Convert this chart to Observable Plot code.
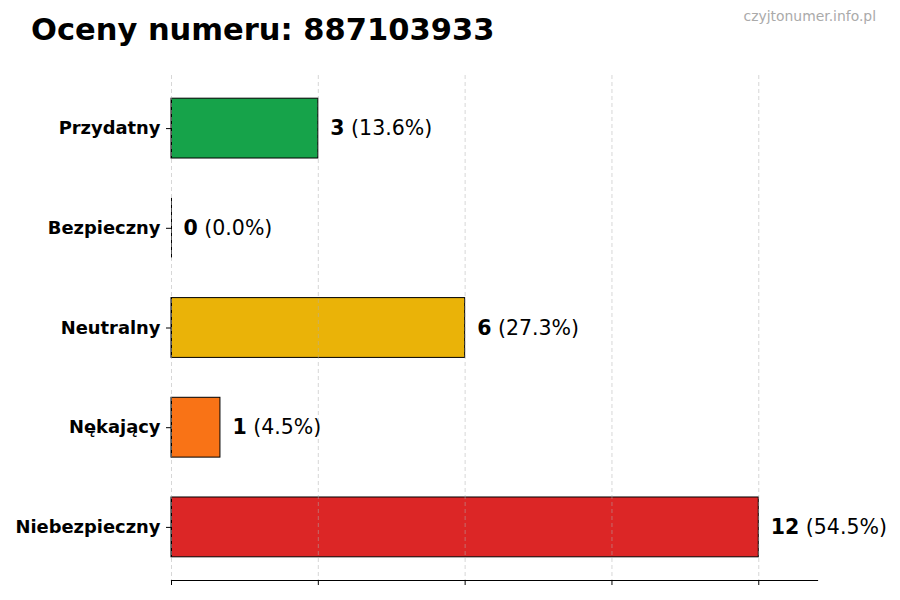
<!DOCTYPE html>
<html>
<head>
<meta charset="utf-8">
<script src="https://cdn.jsdelivr.net/npm/d3@7"></script>
<script src="https://cdn.jsdelivr.net/npm/@observablehq/plot@0.6"></script>
<style>
  html, body { margin: 0; padding: 0; background: #fff; }
  #page { position: relative; width: 900px; height: 600px; overflow: hidden; font-family: "DejaVu Sans", sans-serif; }
  #title { position: absolute; left: 31px; top: 15px; font: bold 30.5px "DejaVu Sans", sans-serif; line-height: 1; color: #000; white-space: nowrap; }
  #mark { position: absolute; right: 24px; top: 10px; font: 13.9px "DejaVu Sans", sans-serif; line-height: 1; color: #aaaaaa; white-space: nowrap; }
  #chart { position: absolute; left: 0; top: 60px; }
  #chart svg { overflow: visible; }
  #chart [aria-label="y-axis tick label"] { font-weight: bold; font-size: 17.9px; }
</style>
</head>
<body>
<div id="page">
  <div id="title">Oceny numeru: 887103933</div>
  <div id="mark">czyjtonumer.info.pl</div>
  <div id="chart"></div>
</div>
<script>
const categories = ["Przydatny", "Bezpieczny", "Neutralny", "Nękający", "Niebezpieczny"];
const counts = [3, 0, 6, 1, 12];
const percents = ["13.6%", "0.0%", "27.3%", "4.5%", "54.5%"];
const colors = ["#16a34a", "#2563eb", "#eab308", "#f97316", "#dc2626"];
const xTicks = [0, 3, 6, 9, 12];
const xMax = 13.2;

const data = categories.map((c, i) => ({category: c, count: counts[i], pct: percents[i], color: colors[i]}));

function splitLabels(index, scales, values, dimensions, context, next) {
  const g = next(index, scales, values, dimensions, context);
  d3.select(g).selectAll("text").each(function () {
    const t = this.textContent;
    const k = t.indexOf(" ");
    const num = t.slice(0, k), rest = t.slice(k);
    const sel = d3.select(this);
    sel.text(null);
    sel.append("tspan").attr("font-weight", "bold").text(num);
    sel.append("tspan").attr("font-weight", "normal").text(rest);
  });
  return g;
}

const chart = Plot.plot({
  width: 900,
  height: 540,
  marginLeft: 171,
  marginRight: 83,
  marginTop: 15,
  marginBottom: 20,
  style: {fontFamily: "DejaVu Sans, sans-serif", color: "#000", background: "transparent"},
  x: {domain: [0, xMax]},
  y: {type: "band", domain: categories, paddingInner: 0.4, paddingOuter: 0.2326, align: 0.5, round: false},
  marks: [
    Plot.barX(data, {x1: 0, x2: "count", y: "category", fill: "color", stroke: "#000", strokeWidth: 1}),
    Plot.tickX(data, {x: 0, y: "category", stroke: "#000", strokeWidth: 1}),
    Plot.gridX({ticks: xTicks, stroke: "#b0b0b0", strokeOpacity: 0.5, strokeDasharray: "4,3", strokeWidth: 1}),
    Plot.frame({anchor: "bottom", stroke: "#000", strokeWidth: 1.2}),
    Plot.axisX({ticks: xTicks, tickFormat: () => "", tickSize: 5, stroke: "#000", label: null}),
    Plot.axisY({tickSize: 5, tickPadding: 6, label: null, stroke: "#000"}),
    Plot.text(data, {
      x: "count", y: "category",
      text: d => `${d.count} (${d.pct})`,
      textAnchor: "start", dx: 12, fontSize: 20.5, fill: "#000",
      render: splitLabels
    })
  ]
});
document.getElementById("chart").appendChild(chart);
</script>
</body>
</html>
